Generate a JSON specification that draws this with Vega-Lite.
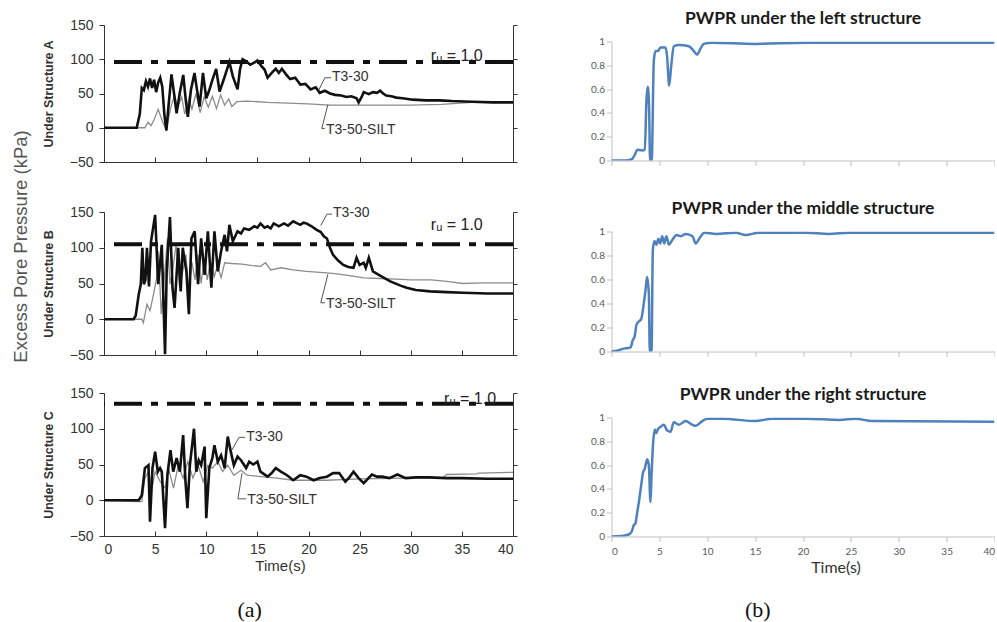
{
"$schema": "https://vega.github.io/schema/vega-lite/v6.json",
"background": "white",
"padding": {"left": 11, "top": 8.5, "right": 0, "bottom": 0},
"config": {"view": {"stroke": null}, "font": "Liberation Sans"},
"datasets": {
"left": [
{"p":"A","s":"k","t":0,"v":0},{"p":"A","s":"k","t":3.2,"v":0},{"p":"A","s":"k","t":3.5,"v":20},{"p":"A","s":"k","t":3.7,"v":58},{"p":"A","s":"k","t":3.9,"v":55},{"p":"A","s":"k","t":4.1,"v":68},{"p":"A","s":"k","t":4.3,"v":60},{"p":"A","s":"k","t":4.5,"v":72},{"p":"A","s":"k","t":4.7,"v":58},{"p":"A","s":"k","t":4.9,"v":70},{"p":"A","s":"k","t":5.1,"v":52},{"p":"A","s":"k","t":5.3,"v":66},{"p":"A","s":"k","t":5.5,"v":73},{"p":"A","s":"k","t":5.7,"v":60},{"p":"A","s":"k","t":5.9,"v":20},{"p":"A","s":"k","t":6.1,"v":-4},{"p":"A","s":"k","t":6.3,"v":30},{"p":"A","s":"k","t":6.6,"v":78},{"p":"A","s":"k","t":6.85,"v":50},{"p":"A","s":"k","t":7.1,"v":21},{"p":"A","s":"k","t":7.4,"v":50},{"p":"A","s":"k","t":7.75,"v":77},{"p":"A","s":"k","t":8.0,"v":40},{"p":"A","s":"k","t":8.2,"v":16},{"p":"A","s":"k","t":8.5,"v":55},{"p":"A","s":"k","t":8.85,"v":80},{"p":"A","s":"k","t":9.1,"v":55},{"p":"A","s":"k","t":9.35,"v":31},{"p":"A","s":"k","t":9.68,"v":80},{"p":"A","s":"k","t":10.0,"v":43},{"p":"A","s":"k","t":10.3,"v":55},{"p":"A","s":"k","t":10.6,"v":70},{"p":"A","s":"k","t":10.97,"v":86},{"p":"A","s":"k","t":11.3,"v":53},{"p":"A","s":"k","t":11.7,"v":70},{"p":"A","s":"k","t":12.26,"v":96},{"p":"A","s":"k","t":12.6,"v":75},{"p":"A","s":"k","t":13.06,"v":56},{"p":"A","s":"k","t":13.3,"v":85},{"p":"A","s":"k","t":13.55,"v":100},{"p":"A","s":"k","t":13.9,"v":97},{"p":"A","s":"k","t":14.3,"v":92},{"p":"A","s":"k","t":14.7,"v":95},{"p":"A","s":"k","t":15.0,"v":98},{"p":"A","s":"k","t":15.4,"v":90},{"p":"A","s":"k","t":15.7,"v":85},{"p":"A","s":"k","t":16.0,"v":73},{"p":"A","s":"k","t":16.4,"v":80},{"p":"A","s":"k","t":16.8,"v":86},{"p":"A","s":"k","t":17.1,"v":80},{"p":"A","s":"k","t":17.4,"v":86},{"p":"A","s":"k","t":17.8,"v":78},{"p":"A","s":"k","t":18.2,"v":71},{"p":"A","s":"k","t":18.7,"v":73},{"p":"A","s":"k","t":19.2,"v":63},{"p":"A","s":"k","t":19.7,"v":64},{"p":"A","s":"k","t":20.2,"v":56},{"p":"A","s":"k","t":20.7,"v":59},{"p":"A","s":"k","t":21.1,"v":51},{"p":"A","s":"k","t":21.6,"v":54},{"p":"A","s":"k","t":22.1,"v":50},{"p":"A","s":"k","t":22.6,"v":48},{"p":"A","s":"k","t":23.2,"v":47},{"p":"A","s":"k","t":23.7,"v":45},{"p":"A","s":"k","t":24.2,"v":46},{"p":"A","s":"k","t":24.7,"v":43},{"p":"A","s":"k","t":24.9,"v":37},{"p":"A","s":"k","t":25.2,"v":45},{"p":"A","s":"k","t":25.4,"v":52},{"p":"A","s":"k","t":25.9,"v":49},{"p":"A","s":"k","t":26.3,"v":52},{"p":"A","s":"k","t":26.7,"v":51},{"p":"A","s":"k","t":27.0,"v":54},{"p":"A","s":"k","t":27.3,"v":50},{"p":"A","s":"k","t":27.6,"v":47},{"p":"A","s":"k","t":28.1,"v":46},{"p":"A","s":"k","t":28.6,"v":44},{"p":"A","s":"k","t":29.2,"v":43},{"p":"A","s":"k","t":30.2,"v":41},{"p":"A","s":"k","t":31.5,"v":40},{"p":"A","s":"k","t":32.8,"v":40},{"p":"A","s":"k","t":34,"v":39},{"p":"A","s":"k","t":36,"v":38},{"p":"A","s":"k","t":38,"v":37},{"p":"A","s":"k","t":40,"v":37},
{"p":"A","s":"g","t":0,"v":0},{"p":"A","s":"g","t":4.0,"v":0},{"p":"A","s":"g","t":4.3,"v":8},{"p":"A","s":"g","t":4.6,"v":3},{"p":"A","s":"g","t":4.9,"v":12},{"p":"A","s":"g","t":5.3,"v":27},{"p":"A","s":"g","t":5.7,"v":10},{"p":"A","s":"g","t":6.1,"v":-3},{"p":"A","s":"g","t":6.5,"v":28},{"p":"A","s":"g","t":6.9,"v":48},{"p":"A","s":"g","t":7.2,"v":30},{"p":"A","s":"g","t":7.6,"v":45},{"p":"A","s":"g","t":7.9,"v":20},{"p":"A","s":"g","t":8.3,"v":42},{"p":"A","s":"g","t":8.6,"v":27},{"p":"A","s":"g","t":9.0,"v":50},{"p":"A","s":"g","t":9.4,"v":22},{"p":"A","s":"g","t":9.8,"v":45},{"p":"A","s":"g","t":10.2,"v":30},{"p":"A","s":"g","t":10.6,"v":46},{"p":"A","s":"g","t":11.0,"v":28},{"p":"A","s":"g","t":11.4,"v":48},{"p":"A","s":"g","t":11.8,"v":33},{"p":"A","s":"g","t":12.2,"v":42},{"p":"A","s":"g","t":12.5,"v":31},{"p":"A","s":"g","t":13.0,"v":38},{"p":"A","s":"g","t":14,"v":39},{"p":"A","s":"g","t":16,"v":37},{"p":"A","s":"g","t":18,"v":36},{"p":"A","s":"g","t":20,"v":35},{"p":"A","s":"g","t":22,"v":33},{"p":"A","s":"g","t":26,"v":33},{"p":"A","s":"g","t":30,"v":33},{"p":"A","s":"g","t":33,"v":34},{"p":"A","s":"g","t":36,"v":37},{"p":"A","s":"g","t":40,"v":37},
{"p":"B","s":"k","t":0,"v":0},{"p":"B","s":"k","t":2.9,"v":0},{"p":"B","s":"k","t":3.1,"v":5},{"p":"B","s":"k","t":3.4,"v":35},{"p":"B","s":"k","t":3.6,"v":49},{"p":"B","s":"k","t":3.75,"v":100},{"p":"B","s":"k","t":3.9,"v":49},{"p":"B","s":"k","t":4.05,"v":55},{"p":"B","s":"k","t":4.2,"v":100},{"p":"B","s":"k","t":4.4,"v":46},{"p":"B","s":"k","t":4.6,"v":109},{"p":"B","s":"k","t":5.0,"v":146},{"p":"B","s":"k","t":5.3,"v":49},{"p":"B","s":"k","t":5.65,"v":104},{"p":"B","s":"k","t":5.97,"v":-49},{"p":"B","s":"k","t":6.13,"v":67},{"p":"B","s":"k","t":6.45,"v":143},{"p":"B","s":"k","t":6.7,"v":44},{"p":"B","s":"k","t":6.9,"v":16},{"p":"B","s":"k","t":7.26,"v":100},{"p":"B","s":"k","t":7.5,"v":39},{"p":"B","s":"k","t":7.7,"v":100},{"p":"B","s":"k","t":8.06,"v":67},{"p":"B","s":"k","t":8.3,"v":7},{"p":"B","s":"k","t":8.55,"v":113},{"p":"B","s":"k","t":8.87,"v":123},{"p":"B","s":"k","t":9.2,"v":49},{"p":"B","s":"k","t":9.5,"v":113},{"p":"B","s":"k","t":9.84,"v":62},{"p":"B","s":"k","t":10.16,"v":123},{"p":"B","s":"k","t":10.5,"v":44},{"p":"B","s":"k","t":10.8,"v":123},{"p":"B","s":"k","t":11.13,"v":67},{"p":"B","s":"k","t":11.45,"v":95},{"p":"B","s":"k","t":11.8,"v":118},{"p":"B","s":"k","t":12.03,"v":95},{"p":"B","s":"k","t":12.26,"v":132},{"p":"B","s":"k","t":12.6,"v":109},{"p":"B","s":"k","t":13.06,"v":123},{"p":"B","s":"k","t":13.4,"v":120},{"p":"B","s":"k","t":13.7,"v":127},{"p":"B","s":"k","t":14.2,"v":125},{"p":"B","s":"k","t":14.7,"v":130},{"p":"B","s":"k","t":15.0,"v":128},{"p":"B","s":"k","t":15.3,"v":134},{"p":"B","s":"k","t":15.7,"v":128},{"p":"B","s":"k","t":16.0,"v":130},{"p":"B","s":"k","t":16.3,"v":127},{"p":"B","s":"k","t":16.6,"v":134},{"p":"B","s":"k","t":17.1,"v":130},{"p":"B","s":"k","t":17.6,"v":134},{"p":"B","s":"k","t":18.0,"v":131},{"p":"B","s":"k","t":18.5,"v":137},{"p":"B","s":"k","t":18.9,"v":134},{"p":"B","s":"k","t":19.2,"v":132},{"p":"B","s":"k","t":19.5,"v":135},{"p":"B","s":"k","t":19.8,"v":134},{"p":"B","s":"k","t":20.3,"v":130},{"p":"B","s":"k","t":20.8,"v":125},{"p":"B","s":"k","t":21.2,"v":122},{"p":"B","s":"k","t":21.5,"v":116},{"p":"B","s":"k","t":21.8,"v":113},{"p":"B","s":"k","t":22.1,"v":100},{"p":"B","s":"k","t":22.4,"v":90},{"p":"B","s":"k","t":22.9,"v":82},{"p":"B","s":"k","t":23.4,"v":76},{"p":"B","s":"k","t":23.9,"v":73},{"p":"B","s":"k","t":24.4,"v":72},{"p":"B","s":"k","t":24.7,"v":86},{"p":"B","s":"k","t":25.0,"v":76},{"p":"B","s":"k","t":25.4,"v":79},{"p":"B","s":"k","t":25.6,"v":72},{"p":"B","s":"k","t":25.9,"v":86},{"p":"B","s":"k","t":26.3,"v":67},{"p":"B","s":"k","t":27.0,"v":61},{"p":"B","s":"k","t":28.0,"v":53},{"p":"B","s":"k","t":29.0,"v":47},{"p":"B","s":"k","t":29.6,"v":44},{"p":"B","s":"k","t":30.5,"v":41},{"p":"B","s":"k","t":31.9,"v":39},{"p":"B","s":"k","t":33.5,"v":38},{"p":"B","s":"k","t":35.1,"v":37},{"p":"B","s":"k","t":37.5,"v":36},{"p":"B","s":"k","t":40,"v":36},
{"p":"B","s":"g","t":0,"v":0},{"p":"B","s":"g","t":3.7,"v":0},{"p":"B","s":"g","t":3.85,"v":-5},{"p":"B","s":"g","t":4.2,"v":21},{"p":"B","s":"g","t":4.5,"v":12},{"p":"B","s":"g","t":4.85,"v":35},{"p":"B","s":"g","t":5.15,"v":58},{"p":"B","s":"g","t":5.3,"v":95},{"p":"B","s":"g","t":5.45,"v":53},{"p":"B","s":"g","t":5.6,"v":7},{"p":"B","s":"g","t":5.95,"v":67},{"p":"B","s":"g","t":6.2,"v":113},{"p":"B","s":"g","t":6.45,"v":49},{"p":"B","s":"g","t":6.7,"v":67},{"p":"B","s":"g","t":7.05,"v":104},{"p":"B","s":"g","t":7.4,"v":44},{"p":"B","s":"g","t":7.7,"v":67},{"p":"B","s":"g","t":8.0,"v":90},{"p":"B","s":"g","t":8.3,"v":40},{"p":"B","s":"g","t":8.6,"v":80},{"p":"B","s":"g","t":8.9,"v":55},{"p":"B","s":"g","t":9.2,"v":90},{"p":"B","s":"g","t":9.5,"v":50},{"p":"B","s":"g","t":9.8,"v":85},{"p":"B","s":"g","t":10.1,"v":55},{"p":"B","s":"g","t":10.4,"v":80},{"p":"B","s":"g","t":10.8,"v":60},{"p":"B","s":"g","t":11.1,"v":75},{"p":"B","s":"g","t":11.45,"v":58},{"p":"B","s":"g","t":11.8,"v":79},{"p":"B","s":"g","t":12.5,"v":78},{"p":"B","s":"g","t":13.5,"v":77},{"p":"B","s":"g","t":14.5,"v":75},{"p":"B","s":"g","t":15.3,"v":74},{"p":"B","s":"g","t":15.8,"v":79},{"p":"B","s":"g","t":16.3,"v":69},{"p":"B","s":"g","t":17.3,"v":72},{"p":"B","s":"g","t":18.5,"v":69},{"p":"B","s":"g","t":19.8,"v":67},{"p":"B","s":"g","t":21.8,"v":65},{"p":"B","s":"g","t":23.0,"v":63},{"p":"B","s":"g","t":24.0,"v":61},{"p":"B","s":"g","t":25.4,"v":58},{"p":"B","s":"g","t":27.0,"v":57},{"p":"B","s":"g","t":28.6,"v":56},{"p":"B","s":"g","t":30.0,"v":55},{"p":"B","s":"g","t":32.0,"v":55},{"p":"B","s":"g","t":33.5,"v":53},{"p":"B","s":"g","t":35.1,"v":50},{"p":"B","s":"g","t":37.0,"v":51},{"p":"B","s":"g","t":40,"v":51},
{"p":"C","s":"k","t":0,"v":0},{"p":"C","s":"k","t":3.4,"v":0},{"p":"C","s":"k","t":3.7,"v":7},{"p":"C","s":"k","t":4.0,"v":45},{"p":"C","s":"k","t":4.35,"v":49},{"p":"C","s":"k","t":4.5,"v":-30},{"p":"C","s":"k","t":4.74,"v":45},{"p":"C","s":"k","t":5.0,"v":68},{"p":"C","s":"k","t":5.26,"v":40},{"p":"C","s":"k","t":5.48,"v":45},{"p":"C","s":"k","t":5.65,"v":40},{"p":"C","s":"k","t":5.97,"v":-39},{"p":"C","s":"k","t":6.2,"v":35},{"p":"C","s":"k","t":6.5,"v":70},{"p":"C","s":"k","t":6.77,"v":40},{"p":"C","s":"k","t":7.1,"v":59},{"p":"C","s":"k","t":7.42,"v":40},{"p":"C","s":"k","t":7.74,"v":91},{"p":"C","s":"k","t":7.97,"v":26},{"p":"C","s":"k","t":8.16,"v":-11},{"p":"C","s":"k","t":8.4,"v":49},{"p":"C","s":"k","t":8.8,"v":100},{"p":"C","s":"k","t":9.03,"v":40},{"p":"C","s":"k","t":9.26,"v":56},{"p":"C","s":"k","t":9.5,"v":49},{"p":"C","s":"k","t":9.84,"v":75},{"p":"C","s":"k","t":10.0,"v":-25},{"p":"C","s":"k","t":10.3,"v":45},{"p":"C","s":"k","t":10.6,"v":59},{"p":"C","s":"k","t":10.8,"v":77},{"p":"C","s":"k","t":11.13,"v":54},{"p":"C","s":"k","t":11.45,"v":63},{"p":"C","s":"k","t":11.8,"v":45},{"p":"C","s":"k","t":12.1,"v":89},{"p":"C","s":"k","t":12.4,"v":68},{"p":"C","s":"k","t":12.7,"v":49},{"p":"C","s":"k","t":13.06,"v":61},{"p":"C","s":"k","t":13.4,"v":56},{"p":"C","s":"k","t":13.9,"v":45},{"p":"C","s":"k","t":14.2,"v":54},{"p":"C","s":"k","t":14.6,"v":50},{"p":"C","s":"k","t":15.0,"v":54},{"p":"C","s":"k","t":15.3,"v":40},{"p":"C","s":"k","t":16.0,"v":33},{"p":"C","s":"k","t":16.4,"v":38},{"p":"C","s":"k","t":16.8,"v":45},{"p":"C","s":"k","t":17.3,"v":40},{"p":"C","s":"k","t":17.9,"v":35},{"p":"C","s":"k","t":18.5,"v":28},{"p":"C","s":"k","t":18.9,"v":32},{"p":"C","s":"k","t":19.2,"v":35},{"p":"C","s":"k","t":19.8,"v":33},{"p":"C","s":"k","t":20.5,"v":28},{"p":"C","s":"k","t":21.1,"v":31},{"p":"C","s":"k","t":21.8,"v":33},{"p":"C","s":"k","t":22.4,"v":38},{"p":"C","s":"k","t":23.0,"v":38},{"p":"C","s":"k","t":23.6,"v":26},{"p":"C","s":"k","t":24.0,"v":32},{"p":"C","s":"k","t":24.4,"v":40},{"p":"C","s":"k","t":24.9,"v":31},{"p":"C","s":"k","t":25.4,"v":24},{"p":"C","s":"k","t":25.8,"v":30},{"p":"C","s":"k","t":26.2,"v":36},{"p":"C","s":"k","t":26.7,"v":33},{"p":"C","s":"k","t":27.2,"v":33},{"p":"C","s":"k","t":27.9,"v":31},{"p":"C","s":"k","t":28.7,"v":36},{"p":"C","s":"k","t":29.5,"v":31},{"p":"C","s":"k","t":30.5,"v":32},{"p":"C","s":"k","t":31.8,"v":32},{"p":"C","s":"k","t":33.5,"v":31},{"p":"C","s":"k","t":35.0,"v":31},{"p":"C","s":"k","t":37.5,"v":30},{"p":"C","s":"k","t":40,"v":30},
{"p":"C","s":"g","t":0,"v":0},{"p":"C","s":"g","t":3.0,"v":-2},{"p":"C","s":"g","t":3.7,"v":-2},{"p":"C","s":"g","t":4.0,"v":31},{"p":"C","s":"g","t":4.35,"v":40},{"p":"C","s":"g","t":4.7,"v":17},{"p":"C","s":"g","t":5.0,"v":40},{"p":"C","s":"g","t":5.5,"v":26},{"p":"C","s":"g","t":6.0,"v":17},{"p":"C","s":"g","t":6.3,"v":45},{"p":"C","s":"g","t":6.8,"v":17},{"p":"C","s":"g","t":7.26,"v":49},{"p":"C","s":"g","t":7.74,"v":31},{"p":"C","s":"g","t":8.2,"v":54},{"p":"C","s":"g","t":8.7,"v":31},{"p":"C","s":"g","t":9.2,"v":49},{"p":"C","s":"g","t":9.7,"v":26},{"p":"C","s":"g","t":10.16,"v":49},{"p":"C","s":"g","t":10.6,"v":45},{"p":"C","s":"g","t":11.13,"v":54},{"p":"C","s":"g","t":11.6,"v":40},{"p":"C","s":"g","t":12.1,"v":49},{"p":"C","s":"g","t":12.7,"v":35},{"p":"C","s":"g","t":13.4,"v":42},{"p":"C","s":"g","t":14.0,"v":35},{"p":"C","s":"g","t":15.3,"v":33},{"p":"C","s":"g","t":16.9,"v":31},{"p":"C","s":"g","t":18.5,"v":28},{"p":"C","s":"g","t":21.8,"v":28},{"p":"C","s":"g","t":25.0,"v":30},{"p":"C","s":"g","t":30.0,"v":31},{"p":"C","s":"g","t":33.2,"v":32},{"p":"C","s":"g","t":33.5,"v":36},{"p":"C","s":"g","t":36.5,"v":37},{"p":"C","s":"g","t":36.6,"v":38},{"p":"C","s":"g","t":40,"v":39}
],
"ru": [
{"p":"A","v":96,"lt":34.5,"lv":105,"txt":"rᵤ = 1.0"},
{"p":"B","v":105,"lt":34.5,"lv":132,"txt":"rᵤ = 1.0"},
{"p":"C","v":135,"lt":35.8,"lv":142,"txt":"rᵤ = 1.0"}
],
"lab": [
{"p":"A","txt":"T3-30","t":22.3,"v":74},
{"p":"A","txt":"T3-50-SILT","t":21.7,"v":-3},
{"p":"B","txt":"T3-30","t":22.4,"v":148},
{"p":"B","txt":"T3-50-SILT","t":21.7,"v":21},
{"p":"C","txt":"T3-30","t":13.9,"v":89},
{"p":"C","txt":"T3-50-SILT","t":14.0,"v":0}
],
"lead": [
{"p":"A","k":"a1","o":1,"t":22.2,"v":73},{"p":"A","k":"a1","o":2,"t":21.6,"v":73},{"p":"A","k":"a1","o":3,"t":21.0,"v":55},
{"p":"A","k":"a2","o":1,"t":21.6,"v":-1},{"p":"A","k":"a2","o":2,"t":21.3,"v":-1},{"p":"A","k":"a2","o":3,"t":21.9,"v":34},
{"p":"B","k":"b1","o":1,"t":22.3,"v":147},{"p":"B","k":"b1","o":2,"t":21.8,"v":147},{"p":"B","k":"b1","o":3,"t":21.2,"v":131},
{"p":"B","k":"b2","o":1,"t":21.6,"v":23},{"p":"B","k":"b2","o":2,"t":21.2,"v":23},{"p":"B","k":"b2","o":3,"t":21.9,"v":63},
{"p":"C","k":"c1","o":1,"t":13.8,"v":88},{"p":"C","k":"c1","o":2,"t":13.2,"v":88},{"p":"C","k":"c1","o":3,"t":12.5,"v":70},
{"p":"C","k":"c2","o":1,"t":13.9,"v":2},{"p":"C","k":"c2","o":2,"t":13.1,"v":2},{"p":"C","k":"c2","o":3,"t":13.5,"v":38}
],
"right": [
{"p":"L","t":0,"r":0},{"p":"L","t":1.46,"r":0},{"p":"L","t":2.16,"r":0.014},{"p":"L","t":2.5,"r":0.06},{"p":"L","t":2.68,"r":0.09},{"p":"L","t":3.2,"r":0.085},{"p":"L","t":3.48,"r":0.09},{"p":"L","t":3.65,"r":0.51},{"p":"L","t":3.79,"r":0.62},{"p":"L","t":3.93,"r":0.43},{"p":"L","t":4.03,"r":0},{"p":"L","t":4.2,"r":0},{"p":"L","t":4.42,"r":0.84},{"p":"L","t":4.6,"r":0.92},{"p":"L","t":4.87,"r":0.92},{"p":"L","t":5.1,"r":0.95},{"p":"L","t":5.63,"r":0.95},{"p":"L","t":5.8,"r":0.88},{"p":"L","t":6.02,"r":0.63},{"p":"L","t":6.23,"r":0.79},{"p":"L","t":6.5,"r":0.96},{"p":"L","t":7.03,"r":0.97},{"p":"L","t":8.07,"r":0.96},{"p":"L","t":8.6,"r":0.92},{"p":"L","t":8.94,"r":0.89},{"p":"L","t":9.29,"r":0.94},{"p":"L","t":9.63,"r":0.98},{"p":"L","t":10.5,"r":0.99},{"p":"L","t":15,"r":0.98},{"p":"L","t":20.2,"r":0.99},{"p":"L","t":27.2,"r":0.99},{"p":"L","t":40,"r":0.99},
{"p":"M","t":0,"r":0},{"p":"M","t":0.77,"r":0.01},{"p":"M","t":1.1,"r":0.02},{"p":"M","t":2,"r":0.035},{"p":"M","t":2.2,"r":0.09},{"p":"M","t":2.43,"r":0.13},{"p":"M","t":2.6,"r":0.22},{"p":"M","t":2.85,"r":0.25},{"p":"M","t":3.1,"r":0.27},{"p":"M","t":3.37,"r":0.4},{"p":"M","t":3.55,"r":0.51},{"p":"M","t":3.72,"r":0.62},{"p":"M","t":3.9,"r":0.48},{"p":"M","t":4.0,"r":0},{"p":"M","t":4.18,"r":0},{"p":"M","t":4.32,"r":0.85},{"p":"M","t":4.5,"r":0.92},{"p":"M","t":4.68,"r":0.89},{"p":"M","t":4.9,"r":0.94},{"p":"M","t":5.07,"r":0.9},{"p":"M","t":5.3,"r":0.96},{"p":"M","t":5.5,"r":0.9},{"p":"M","t":5.73,"r":0.96},{"p":"M","t":6.0,"r":0.89},{"p":"M","t":6.35,"r":0.93},{"p":"M","t":6.8,"r":0.97},{"p":"M","t":7.24,"r":0.96},{"p":"M","t":7.76,"r":0.98},{"p":"M","t":8.46,"r":0.96},{"p":"M","t":8.8,"r":0.9},{"p":"M","t":9.16,"r":0.94},{"p":"M","t":9.7,"r":0.99},{"p":"M","t":10.9,"r":0.98},{"p":"M","t":13,"r":0.99},{"p":"M","t":14,"r":0.97},{"p":"M","t":15.4,"r":0.99},{"p":"M","t":20.3,"r":0.99},{"p":"M","t":22.7,"r":0.98},{"p":"M","t":24.8,"r":0.99},{"p":"M","t":40,"r":0.99},
{"p":"R","t":0,"r":0},{"p":"R","t":1.1,"r":0.005},{"p":"R","t":1.8,"r":0.017},{"p":"R","t":2.1,"r":0.04},{"p":"R","t":2.33,"r":0.095},{"p":"R","t":2.5,"r":0.11},{"p":"R","t":2.68,"r":0.2},{"p":"R","t":2.86,"r":0.29},{"p":"R","t":3.1,"r":0.43},{"p":"R","t":3.3,"r":0.54},{"p":"R","t":3.48,"r":0.57},{"p":"R","t":3.72,"r":0.65},{"p":"R","t":3.9,"r":0.6},{"p":"R","t":4.07,"r":0.29},{"p":"R","t":4.18,"r":0.51},{"p":"R","t":4.35,"r":0.79},{"p":"R","t":4.53,"r":0.9},{"p":"R","t":4.67,"r":0.87},{"p":"R","t":4.84,"r":0.9},{"p":"R","t":5.1,"r":0.92},{"p":"R","t":5.47,"r":0.94},{"p":"R","t":5.82,"r":0.89},{"p":"R","t":6.17,"r":0.88},{"p":"R","t":6.5,"r":0.96},{"p":"R","t":7.04,"r":0.94},{"p":"R","t":7.74,"r":0.97},{"p":"R","t":8.43,"r":0.94},{"p":"R","t":8.8,"r":0.93},{"p":"R","t":9.48,"r":0.97},{"p":"R","t":10,"r":0.99},{"p":"R","t":11.6,"r":0.99},{"p":"R","t":15,"r":0.97},{"p":"R","t":16.8,"r":0.99},{"p":"R","t":20.3,"r":0.99},{"p":"R","t":23.8,"r":0.98},{"p":"R","t":25.5,"r":0.99},{"p":"R","t":27.2,"r":0.97},{"p":"R","t":40,"r":0.965}
],
"sp": [{"z": 0}]
},
"spacing": 72.5,
"hconcat": [
{
"title": {"text": "(a)", "orient": "bottom", "anchor": "middle", "dx": -15, "font": "Liberation Serif", "fontSize": 22, "fontWeight": "normal", "color": "#111", "offset": 27},
"spacing": 8.5,
"vconcat": [
{"width": 10, "height": 1, "data": {"name": "sp"}, "mark": {"type": "rect", "color": "white", "opacity": 0}, "encoding": {}},
{
"title": {"text": "Excess Pore Pressure (kPa)", "orient": "left", "anchor": "middle", "dx": 49, "font": "Liberation Sans", "fontSize": 18.5, "fontWeight": "normal", "color": "#555", "offset": 12},
"spacing": 36,
"vconcat": [
{
"width": 409, "height": 137,
"resolve": {"axis": {"y": "independent"}},
"layer": [
{"data": {"name": "left"}, "transform": [{"filter": "datum.p === 'A' && datum.s === 'g'"}],
 "mark": {"type": "line", "color": "#8c8c8c", "strokeWidth": 1.3, "clip": true},
 "encoding": {
  "x": {"field": "t", "type": "quantitative", "scale": {"domain": [0, 40], "nice": false}, "axis": {"values": [0,5,10,15,20,25,30,35,40], "labels": false, "title": null, "tickSize": -5, "domainColor": "#333", "tickColor": "#333", "grid": false}},
  "y": {"field": "v", "type": "quantitative", "scale": {"domain": [-50, 150], "nice": false}, "axis": {"orient": "left", "values": [-50,0,50,100,150], "title": "Under Structure A", "titleFont": "Liberation Sans", "titleFontSize": 12.5, "titleFontWeight": "bold", "titleColor": "#333", "titlePadding": 14, "labelFont": "Liberation Sans", "labelFontSize": 14, "labelColor": "#333", "labelPadding": 6, "domainColor": "#333", "tickColor": "#333", "tickSize": 5, "grid": false}}
 }},
{"data": {"name": "left"}, "transform": [{"filter": "datum.p === 'A' && datum.s === 'k'"}],
 "mark": {"type": "line", "color": "#111111", "strokeWidth": 2.6, "clip": true},
 "encoding": {"x": {"field": "t", "type": "quantitative"}, "y": {"field": "v", "type": "quantitative", "axis": null}}},
{"data": {"name": "ru"}, "transform": [{"filter": "datum.p === 'A'"}],
 "mark": {"type": "rule", "color": "#111", "strokeWidth": 4, "strokeDash": [28, 9, 7, 9]},
 "encoding": {"y": {"field": "v", "type": "quantitative", "axis": {"orient": "right", "values": [-50,0,50,100,150], "labels": false, "title": null, "tickSize": 4, "domainColor": "#333", "tickColor": "#333", "grid": false}}}},
{"data": {"name": "ru"}, "transform": [{"filter": "datum.p === 'A'"}],
 "mark": {"type": "text", "font": "Liberation Sans", "fontSize": 16, "color": "#222", "align": "center", "baseline": "middle"},
 "encoding": {"x": {"field": "lt", "type": "quantitative"}, "y": {"field": "lv", "type": "quantitative", "axis": null}, "text": {"field": "txt"}}},
{"data": {"name": "lead"}, "transform": [{"filter": "datum.p === 'A'"}],
 "mark": {"type": "line", "color": "#555", "strokeWidth": 1},
 "encoding": {"x": {"field": "t", "type": "quantitative"}, "y": {"field": "v", "type": "quantitative", "axis": null}, "detail": {"field": "k"}, "order": {"field": "o"}}},
{"data": {"name": "lab"}, "transform": [{"filter": "datum.p === 'A'"}],
 "mark": {"type": "text", "font": "Liberation Sans", "fontSize": 14, "color": "#333", "align": "left", "baseline": "middle"},
 "encoding": {"x": {"field": "t", "type": "quantitative"}, "y": {"field": "v", "type": "quantitative", "axis": null}, "text": {"field": "txt"}}}
]
},
{
"spacing": 24,
"vconcat": [
{
"width": 409, "height": 143,
"resolve": {"axis": {"y": "independent"}},
"layer": [
{"data": {"name": "left"}, "transform": [{"filter": "datum.p === 'B' && datum.s === 'g'"}],
 "mark": {"type": "line", "color": "#8c8c8c", "strokeWidth": 1.3, "clip": true},
 "encoding": {
  "x": {"field": "t", "type": "quantitative", "scale": {"domain": [0, 40], "nice": false}, "axis": {"values": [0,5,10,15,20,25,30,35,40], "labels": false, "title": null, "tickSize": -5, "domainColor": "#333", "tickColor": "#333", "grid": false}},
  "y": {"field": "v", "type": "quantitative", "scale": {"domain": [-50, 150], "nice": false}, "axis": {"orient": "left", "values": [-50,0,50,100,150], "title": "Under Structure B", "titleFont": "Liberation Sans", "titleFontSize": 12.5, "titleFontWeight": "bold", "titleColor": "#333", "titlePadding": 14, "labelFont": "Liberation Sans", "labelFontSize": 14, "labelColor": "#333", "labelPadding": 6, "domainColor": "#333", "tickColor": "#333", "tickSize": 5, "grid": false}}
 }},
{"data": {"name": "left"}, "transform": [{"filter": "datum.p === 'B' && datum.s === 'k'"}],
 "mark": {"type": "line", "color": "#111111", "strokeWidth": 2.6, "clip": true},
 "encoding": {"x": {"field": "t", "type": "quantitative"}, "y": {"field": "v", "type": "quantitative", "axis": null}}},
{"data": {"name": "ru"}, "transform": [{"filter": "datum.p === 'B'"}],
 "mark": {"type": "rule", "color": "#111", "strokeWidth": 4, "strokeDash": [28, 9, 7, 9]},
 "encoding": {"y": {"field": "v", "type": "quantitative", "axis": {"orient": "right", "values": [-50,0,50,100,150], "labels": false, "title": null, "tickSize": 4, "domainColor": "#333", "tickColor": "#333", "grid": false}}}},
{"data": {"name": "ru"}, "transform": [{"filter": "datum.p === 'B'"}],
 "mark": {"type": "text", "font": "Liberation Sans", "fontSize": 16, "color": "#222", "align": "center", "baseline": "middle"},
 "encoding": {"x": {"field": "lt", "type": "quantitative"}, "y": {"field": "lv", "type": "quantitative", "axis": null}, "text": {"field": "txt"}}},
{"data": {"name": "lead"}, "transform": [{"filter": "datum.p === 'B'"}],
 "mark": {"type": "line", "color": "#555", "strokeWidth": 1},
 "encoding": {"x": {"field": "t", "type": "quantitative"}, "y": {"field": "v", "type": "quantitative", "axis": null}, "detail": {"field": "k"}, "order": {"field": "o"}}},
{"data": {"name": "lab"}, "transform": [{"filter": "datum.p === 'B'"}],
 "mark": {"type": "text", "font": "Liberation Sans", "fontSize": 14, "color": "#333", "align": "left", "baseline": "middle"},
 "encoding": {"x": {"field": "t", "type": "quantitative"}, "y": {"field": "v", "type": "quantitative", "axis": null}, "text": {"field": "txt"}}}
]
},
{
"width": 409, "height": 143,
"resolve": {"axis": {"y": "independent"}},
"layer": [
{"data": {"name": "left"}, "transform": [{"filter": "datum.p === 'C' && datum.s === 'g'"}],
 "mark": {"type": "line", "color": "#8c8c8c", "strokeWidth": 1.3, "clip": true},
 "encoding": {
  "x": {"field": "t", "type": "quantitative", "scale": {"domain": [0, 40], "nice": false}, "axis": {"values": [0,5,10,15,20,25,30,35,40], "labels": true, "labelFont": "Liberation Sans", "labelFontSize": 14, "labelColor": "#333", "labelPadding": 11, "title": "Time(s)", "titleFont": "Liberation Sans", "titleFontSize": 15, "titleFontWeight": "normal", "titleColor": "#333", "titlePadding": 2, "titleX": 176, "tickSize": -5, "domainColor": "#333", "tickColor": "#333", "grid": false}},
  "y": {"field": "v", "type": "quantitative", "scale": {"domain": [-50, 150], "nice": false}, "axis": {"orient": "left", "values": [-50,0,50,100,150], "title": "Under Structure C", "titleFont": "Liberation Sans", "titleFontSize": 12.5, "titleFontWeight": "bold", "titleColor": "#333", "titlePadding": 14, "labelFont": "Liberation Sans", "labelFontSize": 14, "labelColor": "#333", "labelPadding": 6, "domainColor": "#333", "tickColor": "#333", "tickSize": 5, "grid": false}}
 }},
{"data": {"name": "left"}, "transform": [{"filter": "datum.p === 'C' && datum.s === 'k'"}],
 "mark": {"type": "line", "color": "#111111", "strokeWidth": 2.6, "clip": true},
 "encoding": {"x": {"field": "t", "type": "quantitative"}, "y": {"field": "v", "type": "quantitative", "axis": null}}},
{"data": {"name": "ru"}, "transform": [{"filter": "datum.p === 'C'"}],
 "mark": {"type": "rule", "color": "#111", "strokeWidth": 4, "strokeDash": [28, 9, 7, 9]},
 "encoding": {"y": {"field": "v", "type": "quantitative", "axis": {"orient": "right", "values": [-50,0,50,100,150], "labels": false, "title": null, "tickSize": 4, "domainColor": "#333", "tickColor": "#333", "grid": false}}}},
{"data": {"name": "ru"}, "transform": [{"filter": "datum.p === 'C'"}],
 "mark": {"type": "text", "font": "Liberation Sans", "fontSize": 16, "color": "#222", "align": "center", "baseline": "middle"},
 "encoding": {"x": {"field": "lt", "type": "quantitative"}, "y": {"field": "lv", "type": "quantitative", "axis": null}, "text": {"field": "txt"}}},
{"data": {"name": "lead"}, "transform": [{"filter": "datum.p === 'C'"}],
 "mark": {"type": "line", "color": "#555", "strokeWidth": 1},
 "encoding": {"x": {"field": "t", "type": "quantitative"}, "y": {"field": "v", "type": "quantitative", "axis": null}, "detail": {"field": "k"}, "order": {"field": "o"}}},
{"data": {"name": "lab"}, "transform": [{"filter": "datum.p === 'C'"}],
 "mark": {"type": "text", "font": "Liberation Sans", "fontSize": 14, "color": "#333", "align": "left", "baseline": "middle"},
 "encoding": {"x": {"field": "t", "type": "quantitative"}, "y": {"field": "v", "type": "quantitative", "axis": null}, "text": {"field": "txt"}}}
]
}
]
}
]
}
]
},
{
"title": {"text": "(b)", "orient": "bottom", "anchor": "middle", "dx": -35, "font": "Liberation Serif", "fontSize": 22, "fontWeight": "normal", "color": "#111", "offset": 24},
"spacing": 0,
"vconcat": [
{"width": 10, "height": 1, "data": {"name": "sp"}, "mark": {"type": "rect", "color": "white", "opacity": 0}, "encoding": {}},
{
"spacing": 33,
"vconcat": [
{
"width": 383, "height": 119,
"title": {"text": "PWPR under the left structure", "font": "Lato", "fontSize": 17.5, "fontWeight": "bold", "color": "#1a1a1a", "offset": 9},
"data": {"name": "right"}, "transform": [{"filter": "datum.p === 'L'"}],
"mark": {"type": "line", "color": "#4F81BD", "strokeWidth": 2.5, "interpolate": "monotone", "clip": true},
"encoding": {
 "x": {"field": "t", "type": "quantitative", "scale": {"domain": [0, 40], "nice": false}, "axis": {"values": [0,5,10,15,20,25,30,35,40], "labels": false, "title": null, "tickSize": 5, "domainColor": "#c0c0c0", "tickColor": "#c0c0c0", "grid": false}},
 "y": {"field": "r", "type": "quantitative", "scale": {"domain": [0, 1], "nice": false}, "axis": {"values": [0,0.2,0.4,0.6,0.8,1], "format": "~g", "title": null, "labelFont": "Lato", "labelFontSize": 10, "labelColor": "#595959", "labelPadding": 2, "domainColor": "#c0c0c0", "tickColor": "#c0c0c0", "tickSize": 5, "grid": false}}
}
},
{
"spacing": 28,
"vconcat": [
{
"width": 383, "height": 120,
"title": {"text": "PWPR under the middle structure", "font": "Lato", "fontSize": 17.5, "fontWeight": "bold", "color": "#1a1a1a", "offset": 9},
"data": {"name": "right"}, "transform": [{"filter": "datum.p === 'M'"}],
"mark": {"type": "line", "color": "#4F81BD", "strokeWidth": 2.5, "interpolate": "monotone", "clip": true},
"encoding": {
 "x": {"field": "t", "type": "quantitative", "scale": {"domain": [0, 40], "nice": false}, "axis": {"values": [0,5,10,15,20,25,30,35,40], "labels": false, "title": null, "tickSize": 5, "domainColor": "#c0c0c0", "tickColor": "#c0c0c0", "grid": false}},
 "y": {"field": "r", "type": "quantitative", "scale": {"domain": [0, 1], "nice": false}, "axis": {"values": [0,0.2,0.4,0.6,0.8,1], "format": "~g", "title": null, "labelFont": "Lato", "labelFontSize": 10, "labelColor": "#595959", "labelPadding": 2, "domainColor": "#c0c0c0", "tickColor": "#c0c0c0", "tickSize": 5, "grid": false}}
}
},
{
"width": 383, "height": 119,
"title": {"text": "PWPR under the right structure", "font": "Lato", "fontSize": 17.5, "fontWeight": "bold", "color": "#1a1a1a", "offset": 9},
"data": {"name": "right"}, "transform": [{"filter": "datum.p === 'R'"}],
"mark": {"type": "line", "color": "#4F81BD", "strokeWidth": 2.5, "interpolate": "monotone", "clip": true},
"encoding": {
 "x": {"field": "t", "type": "quantitative", "scale": {"domain": [0, 40], "nice": false}, "axis": {"values": [0,5,10,15,20,25,30,35,40], "labels": true, "labelFont": "Lato", "labelFontSize": 10, "labelColor": "#595959", "labelPadding": 5, "title": "Time(s)", "titleFont": "Lato", "titleFontSize": 16, "titleFontWeight": "normal", "titleColor": "#333", "titlePadding": 3, "titleX": 224, "tickSize": 5, "domainColor": "#c0c0c0", "tickColor": "#c0c0c0", "grid": false}},
 "y": {"field": "r", "type": "quantitative", "scale": {"domain": [0, 1], "nice": false}, "axis": {"values": [0,0.2,0.4,0.6,0.8,1], "format": "~g", "title": null, "labelFont": "Lato", "labelFontSize": 10, "labelColor": "#595959", "labelPadding": 2, "domainColor": "#c0c0c0", "tickColor": "#c0c0c0", "tickSize": 5, "grid": false}}
}
}
]
}
]
}
]
}
]
}
